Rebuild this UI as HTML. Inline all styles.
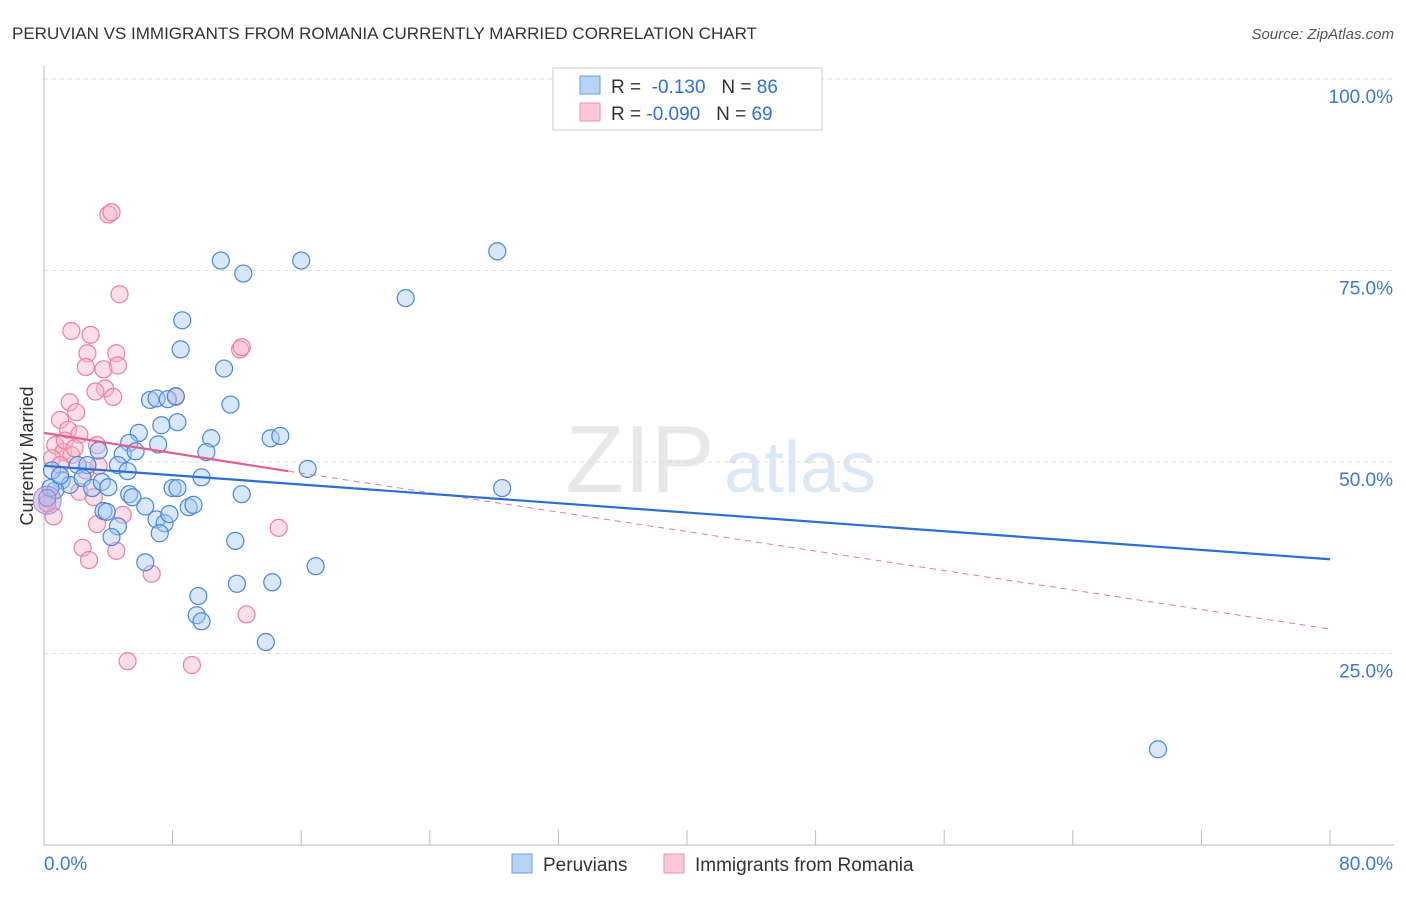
<!DOCTYPE html>
<html><head><meta charset="utf-8"><style>
body{margin:0;background:#fff;font-family:"Liberation Sans",sans-serif}
svg text{font-family:"Liberation Sans",sans-serif}
</style></head><body>
<svg id="c" width="1406" height="892" xmlns="http://www.w3.org/2000/svg">
<text x="12" y="39" font-size="17" fill="#333">PERUVIAN VS IMMIGRANTS FROM ROMANIA CURRENTLY MARRIED CORRELATION CHART</text>
<text x="1394" y="39" font-size="15" fill="#555" font-style="italic" text-anchor="end">Source: ZipAtlas.com</text>
<text x="640" y="492" font-size="96" fill="#e8e8e8" font-family="Liberation Serif" text-anchor="middle">ZIP</text>
<text x="800" y="492" font-size="72" fill="#dce8f5" text-anchor="middle">atlas</text>
<text x="33" y="456" font-size="18" fill="#333" text-anchor="middle" transform="rotate(-90 33 456)">Currently Married</text>
<g id="grid"></g><g id="marks"></g><g id="lines"></g>
<g>
<rect x="553" y="68" width="269" height="62" fill="#fff" stroke="#ccc"/>
<rect x="580" y="76" width="20" height="18" fill="#b8d4f5" stroke="#6a9fe0"/>
<rect x="580" y="103" width="20" height="18" fill="#fac8d6" stroke="#ee8faa"/>
<text x="611" y="93" font-size="19" fill="#333">R = <tspan fill="#2f6fd6">&#160;-0.130</tspan>&#160;&#160;&#160;N = <tspan fill="#2f6fd6">86</tspan></text>
<text x="611" y="120" font-size="19" fill="#333">R = <tspan fill="#2f6fd6">-0.090</tspan>&#160;&#160;&#160;N = <tspan fill="#2f6fd6">69</tspan></text>
</g>
<g>
<rect x="512" y="854" width="20" height="19" fill="#b8d4f5" stroke="#6a9fe0"/>
<text x="543" y="871" font-size="19" fill="#333">Peruvians</text>
<rect x="664" y="854" width="20" height="19" fill="#fac8d6" stroke="#ee8faa"/>
<text x="695" y="871" font-size="19" fill="#333">Immigrants from Romania</text>
</g>
</svg>
<script>
const yTicks=[100,75,50,25];
const yTickLabels=["100.0%","75.0%","50.0%","25.0%"];
const xTickLabels=["0.0%","80.0%"];
const blueX=[11.0,12.4,16.0,28.2,22.5,8.6,8.5,11.2,11.6,6.6,7.0,7.7,8.2,8.3,7.3,5.9,10.4,14.1,14.7,7.1,5.3,3.4,4.9,5.7,10.1,16.4,9.8,4.6,5.2,2.1,2.7,1.1,1.6,2.4,3.0,3.6,4.0,0.7,0.4,0.2,8.0,8.3,12.3,5.3,5.5,6.3,9.0,9.3,3.7,3.9,4.6,7.0,7.5,7.8,4.2,7.2,11.9,6.3,16.9,14.2,12.0,9.6,9.5,9.8,13.8,28.5,69.3,0.5,1.0];
const blueY=[76.3,74.6,76.3,77.5,71.4,68.5,64.7,62.2,57.5,58.1,58.3,58.2,58.6,55.2,54.8,53.8,53.1,53.1,53.4,52.3,52.5,51.5,51.0,51.4,51.3,49.1,48.0,49.6,48.8,49.6,49.6,47.6,47.0,47.9,46.6,47.4,46.7,46.3,46.6,45.3,46.6,46.6,45.8,45.8,45.4,44.2,44.1,44.4,43.6,43.5,41.6,42.5,42.0,43.2,40.2,40.7,39.7,36.9,36.4,34.3,34.1,32.5,30.0,29.2,26.5,46.6,12.5,48.9,48.2];
const pinkX=[4.0,4.2,4.7,1.7,2.9,2.7,4.5,12.2,12.3,2.6,3.7,4.6,3.8,4.3,8.2,3.2,1.6,2.0,1.0,1.5,2.2,3.3,0.7,1.2,1.7,0.5,1.0,2.6,3.4,0.6,3.3,4.9,2.4,2.8,4.5,6.7,14.6,12.6,5.2,9.2,0.2,2.2,3.1,1.3,1.9];
const pinkY=[82.3,82.6,71.9,67.1,66.6,64.2,64.2,64.7,65.0,62.4,62.1,62.6,59.6,58.5,58.5,59.2,57.8,56.5,55.5,54.2,53.6,52.2,52.2,51.3,50.9,50.5,49.6,48.9,49.5,42.9,41.9,43.1,38.8,37.2,38.4,35.4,41.4,30.1,24.0,23.5,44.6,46.1,45.4,52.8,51.8];
const blueTrend=[[0,49.5],[80,37.3]];
const pinkTrend=[[0,53.8],[15.2,48.8]];
const pinkDash=[[15.2,48.8],[80,28.2]];
const X0=44,X1=1330,Y0=845,Y1=79;
const sx=v=>X0+(X1-X0)*v/80, sy=v=>Y0-(Y0-Y1)*v/100;
const NS="http://www.w3.org/2000/svg";
function mk(p,t,a){const e=document.createElementNS(NS,t);for(const k in a)e.setAttribute(k,a[k]);p.appendChild(e);return e;}
const grid=document.getElementById('grid'),marks=document.getElementById('marks'),lines=document.getElementById('lines');
yTicks.forEach((t,i)=>{
 const l=mk(grid,'line',{x1:44,x2:1394,y1:sy(t),y2:sy(t),stroke:'#ddd','stroke-dasharray':'4,4'});
 
 
 const tx=mk(grid,'text',{x:1393,y:sy(t)+24,'font-size':19,fill:'#3a78d8','text-anchor':'end'});
 tx.textContent=yTickLabels[i];
 
 
});
const ax=mk(grid,'line',{x1:44,x2:44,y1:66,y2:845,stroke:'#bbb'});


const bx=mk(grid,'line',{x1:44,x2:1394,y1:845,y2:845,stroke:'#bbb'});


for(let i=0;i<=10;i++){
 const t=mk(grid,'line',{x1:sx(i*8),x2:sx(i*8),y1:830,y2:845,stroke:'#bbb'});
 
 
}
[[0,'start',44],[80,'end',1393]].forEach((d,i)=>{
 const tx=mk(grid,'text',{x:d[2],y:870,'font-size':19,fill:'#3a78d8','text-anchor':d[1]});
 tx.textContent=xTickLabels[i];
 
 
});
function dots(xs,ys,fill,stroke,name){xs.forEach((x,i)=>{
 const c=mk(marks,'circle',{cx:sx(x),cy:sy(ys[i]),r:8.5,fill:fill,'fill-opacity':0.45,stroke:stroke,'stroke-width':1.2});
 
 
});}
dots(pinkX,pinkY,'#f7b6c9','#ec7fa0','romania-point');
dots(blueX,blueY,'#a9c9f1','#4a86dc','peruvian-point');
const big=mk(marks,'circle',{cx:sx(0.2),cy:sy(45),r:14,fill:'#b7a0d8','fill-opacity':0.5,stroke:'#9a8ad0'});


function ln(p,stroke,w,dash,name){
 const l=mk(lines,'line',{x1:sx(p[0][0]),y1:sy(p[0][1]),x2:sx(p[1][0]),y2:sy(p[1][1]),stroke:stroke,'stroke-width':w});
 if(dash)l.setAttribute('stroke-dasharray',dash);
 
 
}
ln(pinkDash,'#e8799b',1,'6,5','romania-trend-extension');
ln(blueTrend,'#2a6fd6',2.2,null,'peruvian-trend-line');
ln(pinkTrend,'#e4608a',2.2,null,'romania-trend-line');
</script>
</body></html>
